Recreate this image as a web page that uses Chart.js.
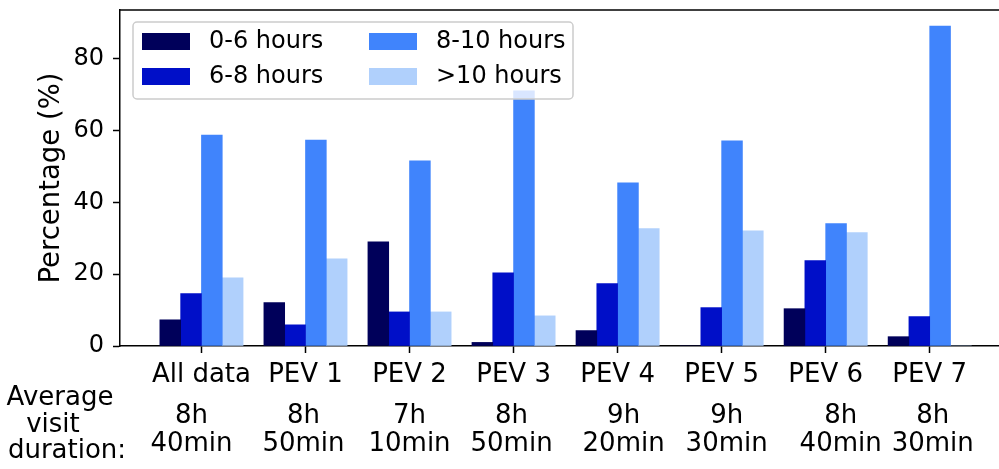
<!DOCTYPE html>
<html>
<head>
    <title>Average visit duration per PEV</title>
    <script src="https://cdn.jsdelivr.net/npm/chart.js"></script>
    <style>
        body { margin: 0; background: #fff; }
    </style>
</head>
<body>
    <canvas id="grafico" width="999" height="469"></canvas>

    <script>
        // Categories and share of visits (%) per duration bucket
        const categories = ['All data', 'PEV 1', 'PEV 2', 'PEV 3', 'PEV 4', 'PEV 5', 'PEV 6', 'PEV 7'];
        const durationHours = ['8h', '8h', '7h', '8h', '9h', '9h', '8h', '8h'];
        const durationMins = ['40min', '50min', '10min', '50min', '20min', '30min', '40min', '30min'];

        const hours0to6 = [7.3, 12.1, 29.0, 1.0, 4.3, 0, 10.4, 2.6];
        const hours6to8 = [14.6, 5.9, 9.5, 20.4, 17.4, 10.7, 23.8, 8.2];
        const hours8to10 = [58.8, 57.4, 51.6, 71.1, 45.5, 57.2, 34.1, 89.2];
        const hoursOver10 = [19.0, 24.3, 9.5, 8.4, 32.7, 32.1, 31.6, 0];

        const seriesLabels = ['0-6 hours', '6-8 hours', '8-10 hours', '>10 hours'];
        const yTicks = [0, 20, 40, 60, 80];

        const cores = ['#00005a', '#000fc8', '#4084fc', '#b0d0fc'];
        const offsets = [-0.3, -0.1, 0.1, 0.3];
        const fonte = 'DejaVu Sans';

        const series = [hours0to6, hours6to8, hours8to10, hoursOver10];
        const datasets = series.map((vals, s) => ({
            label: seriesLabels[s],
            data: vals.map((v, i) => ({ x: i + offsets[s], y: v })),
            backgroundColor: cores[s],
            borderWidth: 0,
            barPercentage: 1,
            categoryPercentage: 1,
            grouped: false
        }));

        // legenda com fundo semitransparente, em duas colunas
        const legendaBox = {
            id: 'legendaBox',
            afterDatasetsDraw(chart) {
                const { ctx, chartArea } = chart;
                const x0 = chartArea.left + 13, y0 = chartArea.top + 12;
                const w = 440, h = 77;
                ctx.save();
                ctx.beginPath();
                ctx.roundRect(x0, y0, w, h, 4);
                ctx.fillStyle = 'rgba(255,255,255,0.8)';
                ctx.fill();
                ctx.lineWidth = 1.5;
                ctx.strokeStyle = '#cccccc';
                ctx.stroke();
                ctx.font = '24px "' + fonte + '"';
                ctx.textBaseline = 'middle';
                ctx.fillStyle = '#000';
                chart.data.datasets.forEach((ds, k) => {
                    const col = Math.floor(k / 2), row = k % 2;
                    const sx = x0 + 9 + col * 227;
                    const sy = y0 + 11 + row * 35;
                    ctx.fillStyle = ds.backgroundColor;
                    ctx.fillRect(sx, sy, 48, 17);
                    ctx.fillStyle = '#000';
                    ctx.fillText(ds.label, sx + 67, sy + 9);
                });
                ctx.restore();
            }
        };

        // borda superior e linha de duração média abaixo dos rótulos
        const extras = {
            id: 'extras',
            afterDraw(chart) {
                const { ctx, chartArea, scales } = chart;
                ctx.save();
                ctx.strokeStyle = '#000';
                ctx.lineWidth = 1.5;
                ctx.beginPath();
                ctx.moveTo(chartArea.left, chartArea.top);
                ctx.lineTo(chartArea.right, chartArea.top);
                ctx.stroke();

                ctx.fillStyle = '#000';
                ctx.font = '26px "' + fonte + '"';
                ctx.textAlign = 'center';
                ctx.textBaseline = 'alphabetic';
                const ajuste = [-10, -2, 0, -2, 6, 5, 15, 3];
                durationHours.forEach((hh, i) => {
                    const x = scales.x.getPixelForValue(i) + ajuste[i];
                    ctx.fillText(hh, x, 423);
                    ctx.fillText(durationMins[i], x, 451);
                });
                ctx.fillText('Average', 60, 405);
                ctx.fillText('visit', 53, 432);
                ctx.fillText('duration:', 67, 458);
                ctx.restore();
            }
        };

        const ctx = document.getElementById('grafico').getContext('2d');
        const myChart = new Chart(ctx, {
            type: 'bar',
            data: { datasets: datasets },
            options: {
                responsive: false,
                animation: false,
                devicePixelRatio: 1,
                layout: { padding: { top: 10, left: 0, right: 0, bottom: 0 } },
                plugins: {
                    legend: { display: false },
                    tooltip: { enabled: false }
                },
                scales: {
                    x: {
                        type: 'linear',
                        offset: false,
                        min: -0.783,
                        max: 7.666,
                        afterBuildTicks: (scale) => {
                            scale.ticks = categories.map((c, i) => ({ value: i }));
                        },
                        afterFit: (scale) => {
                            scale.height = 123;
                            scale.paddingLeft = 0;
                            scale.paddingRight = 0;
                        },
                        ticks: {
                            callback: (v) => categories[v],
                            color: '#000',
                            font: { family: fonte, size: 26 },
                            padding: 7,
                            maxRotation: 0,
                            autoSkip: false
                        },
                        grid: {
                            offset: false,
                            drawOnChartArea: false,
                            tickLength: 7,
                            tickWidth: 1.5,
                            tickColor: '#000'
                        },
                        border: { color: '#000', width: 1.5 }
                    },
                    y: {
                        min: 0,
                        max: 93.65,
                        afterBuildTicks: (scale) => {
                            scale.ticks = yTicks.map(v => ({ value: v }));
                        },
                        afterFit: (scale) => {
                            scale.width = 120;
                            scale.paddingTop = 0;
                            scale.paddingBottom = 0;
                        },
                        ticks: {
                            color: '#000',
                            font: { family: fonte, size: 24 },
                            padding: 9
                        },
                        grid: {
                            drawOnChartArea: false,
                            tickLength: 7,
                            tickWidth: 1.5,
                            tickColor: '#000'
                        },
                        border: { color: '#000', width: 1.5 },
                        title: {
                            display: true,
                            text: 'Percentage (%)',
                            color: '#000',
                            font: { family: fonte, size: 27.5 },
                            padding: { top: 35.5, bottom: 0 }
                        }
                    }
                }
            },
            plugins: [legendaBox, extras]
        });
    </script>
</body>
</html>
